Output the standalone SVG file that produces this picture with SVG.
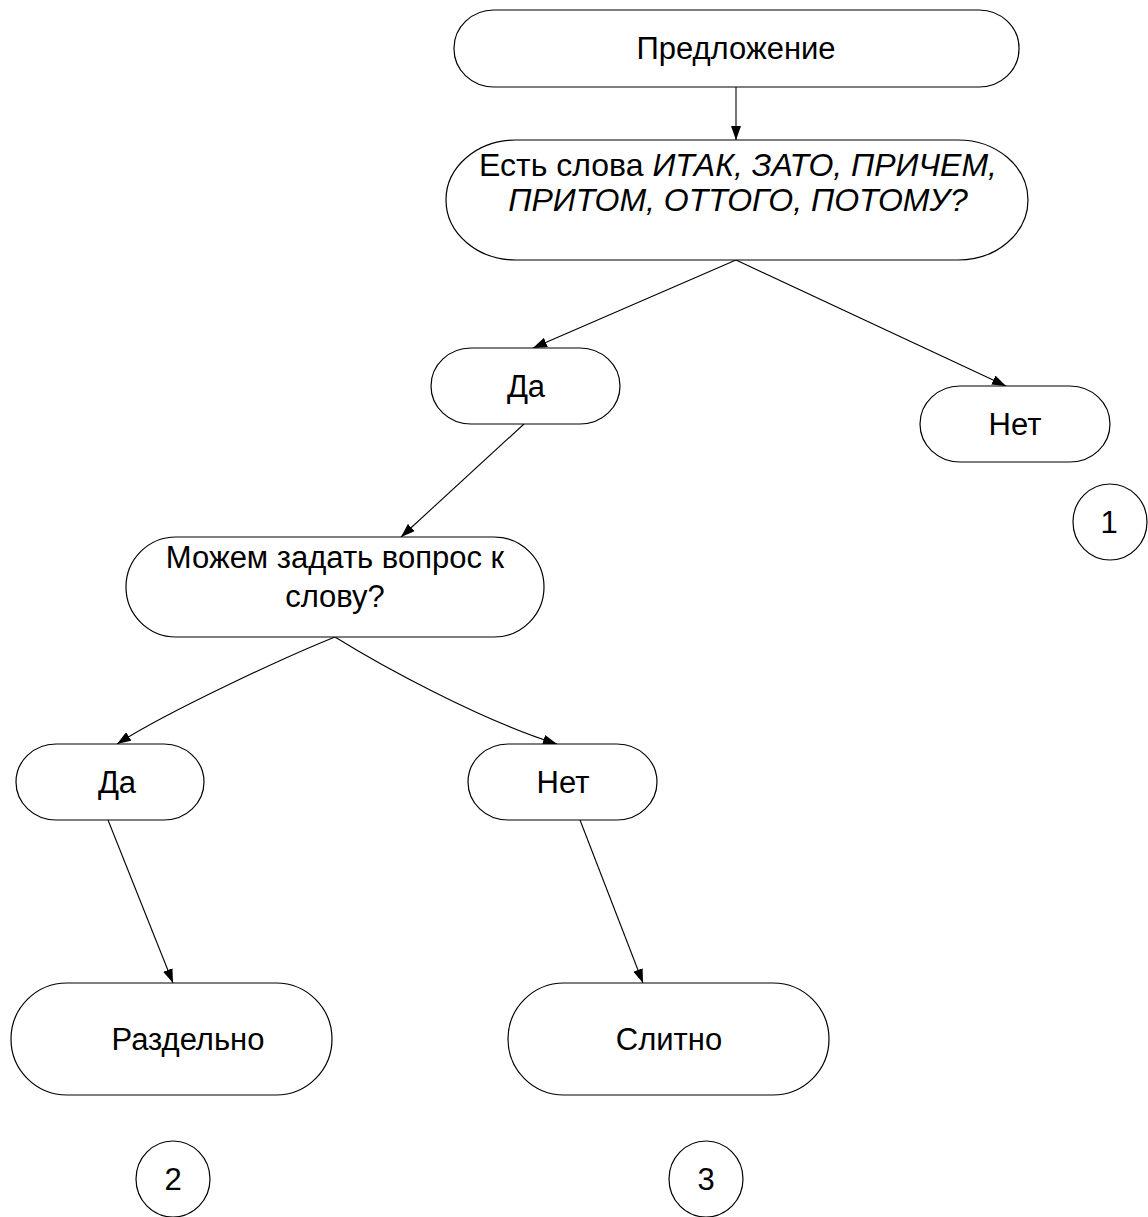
<svg xmlns="http://www.w3.org/2000/svg" width="1148" height="1217" viewBox="0 0 1148 1217">
<style>
.n{fill:#fff;stroke:#000;stroke-width:1.2}
.t{font-family:"Liberation Sans",Arial,sans-serif;font-size:31px;fill:#000;text-anchor:middle}
.q{font-size:32px}
.c{fill:none;stroke:#000;stroke-width:1.1}
</style>
<defs>
<marker id="a" viewBox="0 0 14 10" refX="14" refY="5" markerWidth="14" markerHeight="10" markerUnits="userSpaceOnUse" orient="auto">
<path d="M0,0 L14,5 L0,10 Z" fill="#000"/>
</marker>
</defs>
<rect width="1148" height="1217" fill="#fff"/>
<g id="connectors">
<path class="c" d="M736,87 L736,140" marker-end="url(#a)"/>
<path class="c" d="M736,260 L533,348" marker-end="url(#a)"/>
<path class="c" d="M736,260 L1006,386" marker-end="url(#a)"/>
<path class="c" d="M524,424 L401,537" marker-end="url(#a)"/>
<path class="c" d="M335,637 C290,655 170,710 117,744" marker-end="url(#a)"/>
<path class="c" d="M335,637 C380,665 480,720 557,744" marker-end="url(#a)"/>
<path class="c" d="M108,820 L173,983" marker-end="url(#a)"/>
<path class="c" d="M580,820 L643,983" marker-end="url(#a)"/>
</g>
<g id="n-predlozhenie">
<rect class="n" x="454" y="10" width="565" height="77" rx="40" ry="38"/>
<text class="t" x="736" y="59">Предложение</text>
</g>
<g id="n-question">
<rect class="n" x="446" y="140" width="582" height="120" rx="70" ry="60"/>
<text class="t q" x="738" y="176">Есть слова <tspan font-style="italic">ИТАК, ЗАТО, ПРИЧЕМ,</tspan></text>
<text class="t q" x="738" y="211" font-style="italic">ПРИТОМ, ОТТОГО, ПОТОМУ?</text>
</g>
<g id="n-da1">
<rect class="n" x="431" y="348" width="189" height="76" rx="40" ry="38"/>
<text class="t" x="526" y="397">Да</text>
</g>
<g id="n-net1">
<rect class="n" x="920" y="386" width="190" height="76" rx="40" ry="38"/>
<text class="t" x="1015" y="435">Нет</text>
</g>
<g id="n-mozhem">
<rect class="n" x="126" y="537" width="418" height="100" rx="50" ry="50"/>
<text class="t" x="335" y="568">Можем задать вопрос к</text>
<text class="t" x="335" y="607">слову?</text>
</g>
<g id="n-da2">
<rect class="n" x="16" y="744" width="188" height="76" rx="40" ry="38"/>
<text class="t" x="117" y="793">Да</text>
</g>
<g id="n-net2">
<rect class="n" x="468" y="744" width="189" height="76" rx="40" ry="38"/>
<text class="t" x="563" y="793">Нет</text>
</g>
<g id="n-razdelno">
<rect class="n" x="11" y="983" width="321" height="112" rx="56" ry="56"/>
<text class="t" x="188" y="1050">Раздельно</text>
</g>
<g id="n-slitno">
<rect class="n" x="508" y="983" width="321" height="112" rx="56" ry="56"/>
<text class="t" x="669" y="1050">Слитно</text>
</g>
<g id="n-1">
<ellipse class="n" cx="1110" cy="522" rx="37" ry="38"/>
<text class="t" x="1109" y="533">1</text>
</g>
<g id="n-2">
<ellipse class="n" cx="173" cy="1179" rx="37" ry="38"/>
<text class="t" x="173" y="1190">2</text>
</g>
<g id="n-3">
<ellipse class="n" cx="706" cy="1179" rx="37" ry="38"/>
<text class="t" x="706" y="1190">3</text>
</g>
</svg>
